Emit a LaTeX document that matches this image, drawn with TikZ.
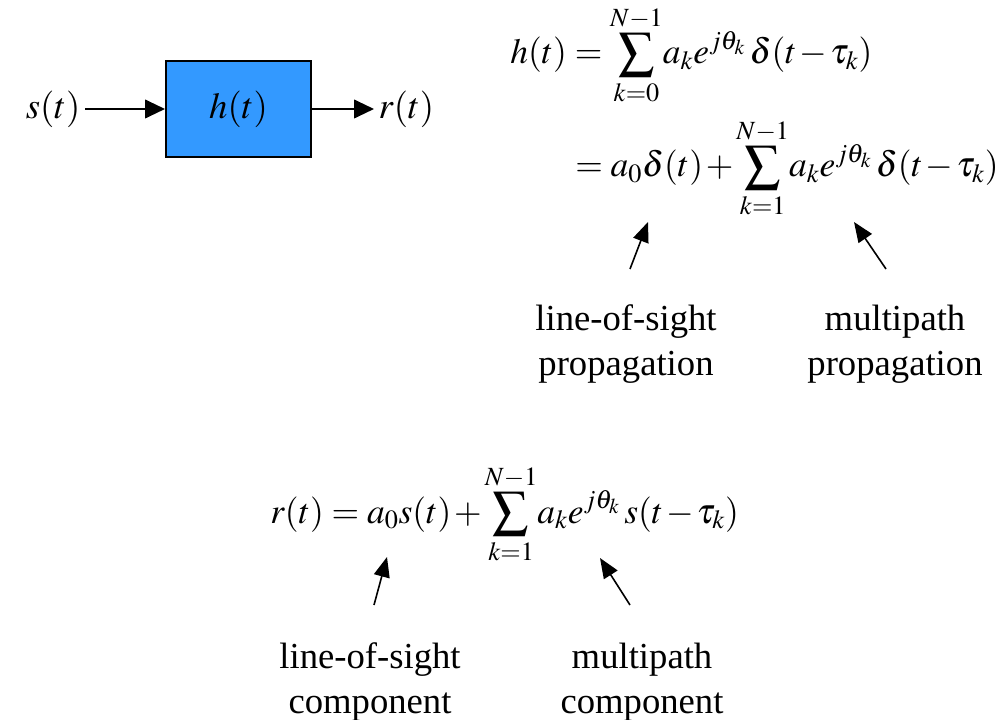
\documentclass[tikz,border=0pt]{standalone}
\usepackage{amsmath}
\usepackage{mathptmx}
\usepackage{fontspec}
\setmainfont{Liberation Serif}
\usepackage{tikz}
\usetikzlibrary{arrows.meta,positioning}

\definecolor{chanblue}{RGB}{51,153,255}

\begin{document}
\begin{tikzpicture}[
    x=0.75pt, y=-0.75pt,
    every node/.style={font=\fontsize{27.5}{33.75}\selectfont},
    sigarrow/.style={-{Triangle[length=15pt,width=14pt]}, line width=1.5pt},
    ptr/.style={-{Triangle[length=15pt,width=12pt]}, line width=1.2pt},
    eqn/.style={inner sep=0pt, anchor=base west,
                font=\fontsize{26.6}{32}\selectfont,
                execute at begin node={\medmuskip=1.5mu}},
    lbl/.style={align=center, inner sep=0pt}
]

\useasboundingbox (0,0) rectangle (1002,720);

% Kanal als Block
\node[
    draw=black,
    line width=1.5pt,
    fill=chanblue,
    minimum width=108.75pt,
    minimum height=72pt
] (chan) at (238.5,109) {$h(t)$};

% Eingang und Ausgang
\node[left=60pt of chan] (sig) {$s(t)$};
\node[right=46.5pt of chan] (out) {$r(t)$};

\draw[sigarrow] (sig) -- (chan);
\draw[sigarrow] (chan) -- (out);

% Impulsantwort
\node[eqn] (himp) at (510,64)
  {$h(t) = \displaystyle\sum_{k=0}^{N-1}\! a_k e^{j\theta_k}\,\delta(t-\tau_k)$};
\node[eqn] (hsplit) at (575,177)
  {$= a_0\delta(t) + \displaystyle\sum_{k=1}^{N-1}\! a_k e^{j\theta_k}\,\delta(t-\tau_k)$};

% Empfangssignal
\node[eqn] (rsig) at (270,523)
  {$r(t) = a_0 s(t) + \displaystyle\sum_{k=1}^{N-1}\! a_k e^{j\theta_k}\,s(t-\tau_k)$};

% Beschriftungen
\node[lbl] (losprop) at (626,344) {line-of-sight\\propagation};
\node[lbl] (mpprop) at (895,344) {multipath\\propagation};
\node[lbl] (loscomp) at (370,682) {line-of-sight\\component};
\node[lbl] (mpcomp) at (642,682) {multipath\\component};

% Pfeile auf die Terme
\coordinate (losproptail) at (630,269);
\coordinate (losproptip) at (648,222);
\coordinate (mpproptail) at (886,269);
\coordinate (mpproptip) at (854,222);
\coordinate (loscomptail) at (374,605);
\coordinate (loscomptip) at (387,557);
\coordinate (mpcomptail) at (630,605);
\coordinate (mpcomptip) at (600,558);

\draw[ptr] (losproptail) -- (losproptip);
\draw[ptr] (mpproptail) -- (mpproptip);
\draw[ptr] (loscomptail) -- (loscomptip);
\draw[ptr] (mpcomptail) -- (mpcomptip);

\end{tikzpicture}
\end{document}
